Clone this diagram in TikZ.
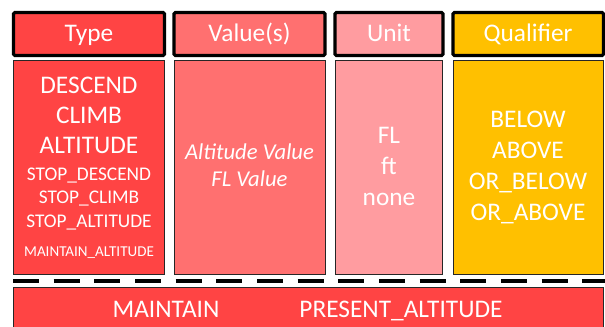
\documentclass[tikz,border=0pt]{standalone}
\usepackage{fontspec}
\setmainfont{Carlito}
\definecolor{cType}{RGB}{255,68,68}
\definecolor{cVal}{RGB}{255,112,112}
\definecolor{cUnit}{RGB}{255,156,160}
\definecolor{cQual}{RGB}{255,192,0}
\tikzset{
  hdr/.style={draw=black,line width=2.4pt,rounded corners=1pt},
  bodybox/.style={draw=black!85,line width=0.7pt},
  txt/.style={text=white,inner sep=0pt,anchor=base,font=\fontsize{19}{19}\selectfont},
  txtm/.style={text=white,inner sep=0pt,anchor=base,font=\fontsize{14.5}{14.5}\selectfont},
  txts/.style={text=white,inner sep=0pt,anchor=base,font=\fontsize{11.3}{11.3}\selectfont},
  txti/.style={text=white,inner sep=0pt,anchor=base,font=\fontsize{17}{17}\selectfont\itshape},
}
\begin{document}
\begin{tikzpicture}[x=0.75pt,y=-0.75pt]
\useasboundingbox (0,0) rectangle (605,327);
% headers
\draw[hdr,fill=cType] (13.5,12.5) rectangle (164.5,55.5);
\draw[hdr,fill=cVal] (174,12.5) rectangle (325,55.5);
\draw[hdr,fill=cUnit] (335,12.5) rectangle (443,55.5);
\draw[hdr,fill=cQual] (453,12.5) rectangle (603.5,55.5);
\node[txt] (hType) at (89,41.7) {Type};
\node[txt] (hVal) at (249.5,41.7) {Value(s)};
\node[txt] (hUnit) at (389,41.7) {Unit};
\node[txt] (hQual) at (528,41.7) {Qualifier};
% bodies
\draw[bodybox,fill=cType] (13.5,60.5) rectangle (164,274);
\draw[bodybox,fill=cVal] (174.5,60.5) rectangle (325,274);
\draw[bodybox,fill=cUnit] (335.5,60.5) rectangle (442.5,274);
\draw[bodybox,fill=cQual] (453.5,60.5) rectangle (603,274);
% type texts
\node[txt] (t1) at (89,93.3) {DESCEND};
\node[txt] (t2) at (89,123.3) {CLIMB};
\node[txt] (t3) at (89,153.3) {ALTITUDE};
\node[txtm] (t4) at (89,180.7) {STOP\_DESCEND};
\node[txtm] (t5) at (89,204) {STOP\_CLIMB};
\node[txtm] (t6) at (89,227.3) {STOP\_ALTITUDE};
\node[txts] (t7) at (89,256.7) {MAINTAIN\_ALTITUDE};
% value texts
\node[txti] (v1) at (249.5,159.3) {Altitude Value};
\node[txti] (v2) at (249.5,186.7) {FL Value};
% unit texts
\node[txt] (u1) at (389,143.3) {FL};
\node[txt] (u2) at (389,175) {ft};
\node[txt] (u3) at (389,205) {none};
% qualifier texts
\node[txt] (q1) at (528,127.3) {BELOW};
\node[txt] (q2) at (528,158.3) {ABOVE};
\node[txt] (q3) at (528,190) {OR\_BELOW};
\node[txt] (q4) at (528,220) {OR\_ABOVE};
% dashed separator
\coordinate (dL) at (13,281);
\coordinate (dR) at (605,281);
\draw[line width=2.4pt,dash pattern=on 19.5pt off 11pt] (dL) -- (dR);
% bottom box
\draw[bodybox,fill=cType] (13.5,287.5) rectangle (603,335);
\node[txt] (b1) at (166,317) {MAINTAIN};
\node[txt] (b2) at (401,317) {PRESENT\_ALTITUDE};
\end{tikzpicture}
\end{document}
